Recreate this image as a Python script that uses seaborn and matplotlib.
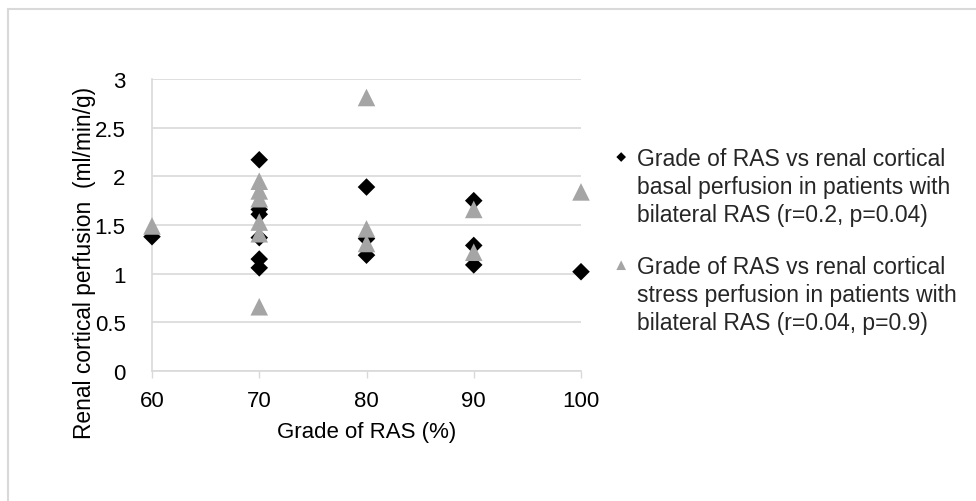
import matplotlib
matplotlib.use("Agg")
import matplotlib.pyplot as plt
import seaborn as sns
import pandas as pd
from matplotlib.patches import Rectangle

# Data
basal_grade = [60, 70, 70, 70, 70, 70, 70, 80, 80, 80, 90, 90, 90, 100]
basal_perf = [1.38, 2.17, 1.66, 1.61, 1.37, 1.15, 1.06, 1.89, 1.36, 1.19, 1.75, 1.29, 1.09, 1.02]

stress_grade = [60, 70, 70, 70, 70, 70, 70, 80, 80, 80, 90, 90, 100]
stress_perf = [1.49, 1.95, 1.85, 1.77, 1.53, 1.41, 0.66, 2.81, 1.46, 1.31, 1.66, 1.22, 1.84]

basal_label = "Grade of RAS vs renal cortical\nbasal perfusion in patients with\nbilateral RAS (r=0.2, p=0.04)"
stress_label = "Grade of RAS vs renal cortical\nstress perfusion in patients with\nbilateral RAS (r=0.04, p=0.9)"

x_ticks = [60, 70, 80, 90, 100]
y_ticks = [0, 0.5, 1, 1.5, 2, 2.5, 3]
y_tick_labels = ["0", "0.5", "1", "1.5", "2", "2.5", "3"]

sns.set_theme(style="white")
plt.rcParams["font.family"] = ["Liberation Sans", "DejaVu Sans"]

fs = 16
fs_leg = 16.5
fs_ylab = 16.4
grid_c = "#D9D9D9"

fig = plt.figure(figsize=(9.76, 5.02), dpi=100)
ax = fig.add_axes([152 / 976, 1 - 372 / 502, (581 - 152) / 976, (372 - 80) / 502])

df_b = pd.DataFrame({"grade": basal_grade, "perf": basal_perf})
df_s = pd.DataFrame({"grade": stress_grade, "perf": stress_perf})

sns.scatterplot(data=df_b, x="grade", y="perf", ax=ax, marker="D", s=80,
                color="black", edgecolor="none", linewidth=0, label=basal_label, zorder=3)
sns.scatterplot(data=df_s, x="grade", y="perf", ax=ax, marker="^", s=160,
                color="#A5A5A5", edgecolor="none", linewidth=0, label=stress_label, zorder=4)

ax.set_xlim(60, 100)
ax.set_ylim(0, 3)
ax.set_xticks(x_ticks)
ax.set_yticks(y_ticks)
ax.set_yticklabels(y_tick_labels)
ax.tick_params(axis="x", labelsize=fs, colors="black", length=5, width=1,
               direction="out", color=grid_c, pad=8.5, bottom=True)
ax.tick_params(axis="y", labelsize=fs, colors="black", length=0, pad=19)
ax.grid(axis="y", color=grid_c, linewidth=1.2)
ax.grid(axis="x", visible=False)
for side in ["top", "right"]:
    ax.spines[side].set_visible(False)
for side in ["left", "bottom"]:
    ax.spines[side].set_color(grid_c)
    ax.spines[side].set_linewidth(1.2)
for coll in ax.collections:
    coll.set_clip_on(False)

ax.set_xlabel("Grade of RAS (%)", fontsize=fs, color="black")
ax.set_ylabel("Renal cortical perfusion  (ml/min/g)", fontsize=fs_ylab, color="black")
ax.xaxis.set_label_coords(0.5, -0.171)
ax.yaxis.set_label_coords(-0.13, (372 - 263) / 292)

leg = ax.legend(loc="upper left", bbox_to_anchor=(612 / 976, 1 - 148 / 502),
                bbox_transform=fig.transFigure, frameon=False, fontsize=fs_leg,
                handlelength=0.8, handletextpad=0.3, labelspacing=1.27,
                borderpad=0, borderaxespad=0, markerscale=0.55)
for t in leg.get_texts():
    t.set_linespacing(1.28)
try:
    for col in leg._legend_handle_box.get_children():
        for item in col.get_children():
            item.align = "top"
except Exception:
    pass

fig.add_artist(Rectangle((8 / 976, -0.1), 1.2, 1.1 - 10 / 502, transform=fig.transFigure,
                         fill=False, edgecolor=grid_c, linewidth=1.5))

fig.savefig("out.png", dpi=100)
